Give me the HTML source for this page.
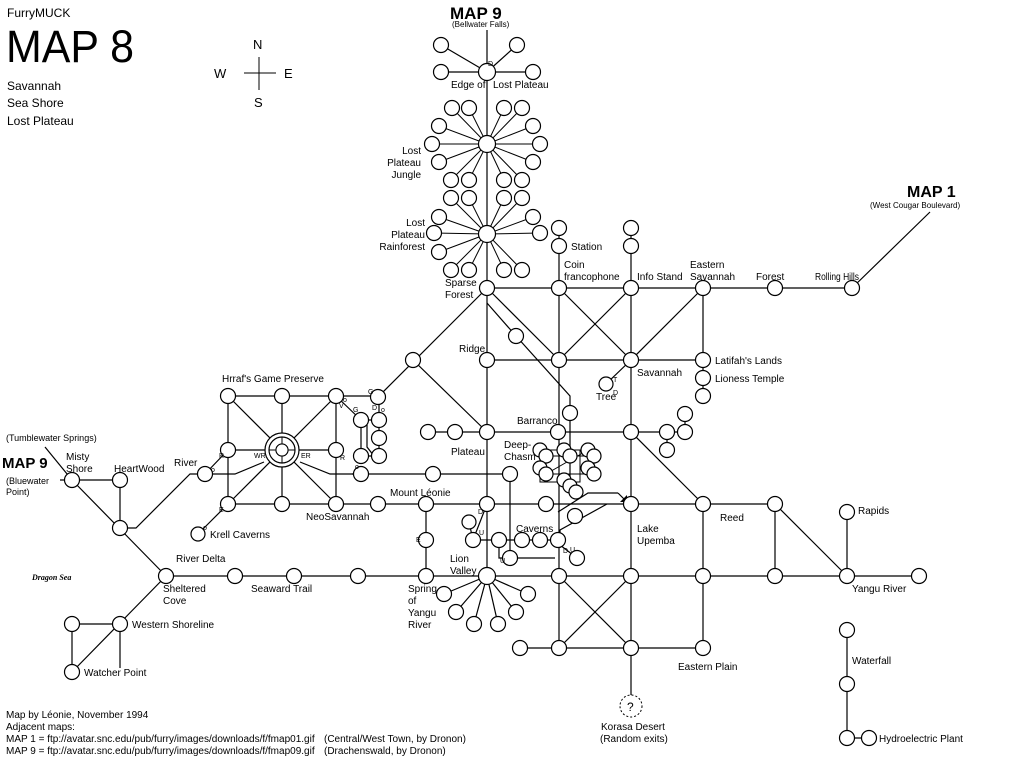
<!DOCTYPE html>
<html><head><meta charset="utf-8"><style>
html,body{margin:0;padding:0;background:#fff}
svg{display:block}
text{font-family:"Liberation Sans",sans-serif;font-size:10px;fill:#000}
.l{stroke:#000;stroke-width:1.2;fill:none}
.t{stroke:#000;stroke-width:1;fill:none}
.c{fill:#fff;stroke:#000;stroke-width:1.2}
.s{font-size:7px}
</style></head><body>
<svg width="1024" height="768" viewBox="0 0 1024 768" xmlns="http://www.w3.org/2000/svg">
<text x="7" y="17" style="font-size:12px">FurryMUCK</text>
<text x="6" y="62" style="font-size:45px" textLength="128" lengthAdjust="spacingAndGlyphs">MAP 8</text>
<text x="7" y="90" style="font-size:12px">Savannah</text>
<text x="7" y="107" style="font-size:12px">Sea Shore</text>
<text x="7" y="125" style="font-size:12px">Lost Plateau</text>
<g class="t"><line x1="244" y1="73" x2="276" y2="73"/><line x1="259" y1="57" x2="259" y2="90"/></g>
<text x="253" y="49" style="font-size:13px">N</text>
<text x="214" y="78" style="font-size:13px">W</text>
<text x="284" y="78" style="font-size:13px">E</text>
<text x="254" y="107" style="font-size:13px">S</text>

<g class="l">
<line x1="487" y1="30" x2="487" y2="576"/>
<line x1="441" y1="72" x2="533" y2="72"/>
<line x1="487" y1="72" x2="441" y2="45"/><line x1="487" y1="72" x2="517" y2="45"/>
<line x1="487" y1="288" x2="852" y2="288"/>
<line x1="852" y1="288" x2="930" y2="212"/>
<line x1="559" y1="228" x2="559" y2="648"/>
<line x1="631" y1="228" x2="631" y2="706"/>
<line x1="703" y1="288" x2="703" y2="396"/>
<line x1="559" y1="288" x2="631" y2="360"/>
<line x1="631" y1="288" x2="559" y2="360"/>
<line x1="703" y1="288" x2="631" y2="360"/>
<line x1="487" y1="288" x2="559" y2="360"/>
<polyline points="487,303 516,336 570,396 570,476"/>
<line x1="487" y1="288" x2="378" y2="397"/>
<line x1="413" y1="360" x2="487" y2="432"/>
<line x1="487" y1="360" x2="703" y2="360"/>
<line x1="631" y1="360" x2="606" y2="384"/>
<line x1="428" y1="432" x2="685" y2="432"/>
<line x1="685" y1="414" x2="685" y2="432"/>
<line x1="667" y1="432" x2="667" y2="450"/>
<line x1="631" y1="432" x2="703" y2="504"/>
<line x1="352" y1="474" x2="510" y2="474"/>
<line x1="510" y1="474" x2="510" y2="558"/>
<line x1="336" y1="504" x2="426" y2="504"/>
<line x1="426" y1="504" x2="775" y2="504"/>
<line x1="426" y1="504" x2="426" y2="576"/>
<line x1="775" y1="504" x2="847" y2="576"/>
<line x1="703" y1="504" x2="703" y2="648"/>
<line x1="775" y1="504" x2="775" y2="576"/>
<polyline points="558,512 588,493 618,493"/>
<polyline points="560,548 560,530 607,504"/>
<line x1="473" y1="540" x2="558" y2="540"/>
<line x1="487" y1="504" x2="473" y2="540"/>
<polyline points="469,522 473,540"/>
<polyline points="499,540 499,558 555,558"/>
<line x1="577" y1="558" x2="560" y2="545"/>
<line x1="166" y1="576" x2="919" y2="576"/>
<line x1="520" y1="648" x2="703" y2="648"/>
<line x1="559" y1="576" x2="631" y2="648"/>
<line x1="631" y1="576" x2="559" y2="648"/>
<line x1="487" y1="576" x2="444" y2="594"/><line x1="487" y1="576" x2="456" y2="612"/>
<line x1="487" y1="576" x2="474" y2="624"/><line x1="487" y1="576" x2="498" y2="624"/>
<line x1="487" y1="576" x2="516" y2="612"/><line x1="487" y1="576" x2="528" y2="594"/>
<line x1="847" y1="512" x2="847" y2="576"/>
<line x1="847" y1="630" x2="847" y2="738"/>
<line x1="847" y1="738" x2="869" y2="738"/>
<line x1="228" y1="396" x2="378" y2="396"/>
<line x1="228" y1="450" x2="336" y2="450"/>
<line x1="228" y1="504" x2="336" y2="504"/>
<line x1="228" y1="396" x2="228" y2="504"/>
<line x1="282" y1="396" x2="282" y2="504"/>
<line x1="336" y1="396" x2="336" y2="504"/>
<line x1="228" y1="396" x2="336" y2="504"/>
<line x1="336" y1="396" x2="228" y2="504"/>
<line x1="336" y1="396" x2="361" y2="420"/>
<line x1="361" y1="420" x2="379" y2="420"/>
<line x1="379" y1="397" x2="379" y2="456"/>
<line x1="361" y1="456" x2="379" y2="456"/>
<line x1="361" y1="420" x2="361" y2="456"/>
<polyline points="367,425 367,447 374,456"/>
<polyline points="205,474 235,474 264,462"/>
<polyline points="300,462 330,474 361,474"/>
<line x1="228" y1="450" x2="205" y2="474"/>
<line x1="228" y1="504" x2="198" y2="534"/>
<line x1="45" y1="447" x2="72" y2="480"/>
<line x1="60" y1="480" x2="120" y2="480"/>
<line x1="72" y1="480" x2="166" y2="576"/>
<line x1="120" y1="480" x2="120" y2="528"/>
<polyline points="120,528 136,528 190,474 205,474"/>
<line x1="166" y1="576" x2="72" y2="672"/>
<line x1="72" y1="624" x2="120" y2="624"/>
<line x1="72" y1="624" x2="72" y2="672"/>
<line x1="120" y1="624" x2="120" y2="668"/>
</g>
<g class="t">
<line x1="487" y1="144" x2="452" y2="108"/><line x1="487" y1="144" x2="469" y2="108"/><line x1="487" y1="144" x2="504" y2="108"/><line x1="487" y1="144" x2="522" y2="108"/>
<line x1="487" y1="144" x2="439" y2="126"/><line x1="487" y1="144" x2="533" y2="126"/><line x1="487" y1="144" x2="432" y2="144"/><line x1="487" y1="144" x2="540" y2="144"/>
<line x1="487" y1="144" x2="439" y2="162"/><line x1="487" y1="144" x2="533" y2="162"/>
<line x1="487" y1="144" x2="451" y2="180"/><line x1="487" y1="144" x2="469" y2="180"/><line x1="487" y1="144" x2="504" y2="180"/><line x1="487" y1="144" x2="522" y2="180"/>
<line x1="487" y1="234" x2="451" y2="198"/><line x1="487" y1="234" x2="469" y2="198"/><line x1="487" y1="234" x2="504" y2="198"/><line x1="487" y1="234" x2="522" y2="198"/>
<line x1="487" y1="234" x2="439" y2="217"/><line x1="487" y1="234" x2="533" y2="217"/><line x1="487" y1="234" x2="434" y2="233"/><line x1="487" y1="234" x2="540" y2="233"/>
<line x1="487" y1="234" x2="439" y2="252"/>
<line x1="487" y1="234" x2="451" y2="270"/><line x1="487" y1="234" x2="469" y2="270"/><line x1="487" y1="234" x2="504" y2="270"/><line x1="487" y1="234" x2="522" y2="270"/>
<rect x="546" y="456" width="48" height="18"/>
<polyline points="540,450 540,482 580,482 580,450"/>
<line x1="540" y1="450" x2="594" y2="450"/>
<line x1="546" y1="474" x2="588" y2="450"/>
<line x1="570" y1="456" x2="570" y2="486"/>
<line x1="588" y1="468" x2="594" y2="474"/>
</g>
<path d="M618,493 L625,500" class="l"/><path d="M620,502 L627,502 L627,495 Z" fill="#000"/>

<g class="c">
<circle cx="487" cy="72" r="8.5"/><circle cx="441" cy="45" r="7.5"/><circle cx="517" cy="45" r="7.5"/><circle cx="441" cy="72" r="7.5"/><circle cx="533" cy="72" r="7.5"/>
<circle cx="487" cy="144" r="8.5"/><circle cx="487" cy="234" r="8.5"/>
<circle cx="452" cy="108" r="7.5"/><circle cx="469" cy="108" r="7.5"/><circle cx="504" cy="108" r="7.5"/><circle cx="522" cy="108" r="7.5"/>
<circle cx="439" cy="126" r="7.5"/><circle cx="533" cy="126" r="7.5"/><circle cx="432" cy="144" r="7.5"/><circle cx="540" cy="144" r="7.5"/>
<circle cx="439" cy="162" r="7.5"/><circle cx="533" cy="162" r="7.5"/>
<circle cx="451" cy="180" r="7.5"/><circle cx="469" cy="180" r="7.5"/><circle cx="504" cy="180" r="7.5"/><circle cx="522" cy="180" r="7.5"/>
<circle cx="451" cy="198" r="7.5"/><circle cx="469" cy="198" r="7.5"/><circle cx="504" cy="198" r="7.5"/><circle cx="522" cy="198" r="7.5"/>
<circle cx="439" cy="217" r="7.5"/><circle cx="533" cy="217" r="7.5"/><circle cx="434" cy="233" r="7.5"/><circle cx="540" cy="233" r="7.5"/>
<circle cx="439" cy="252" r="7.5"/>
<circle cx="451" cy="270" r="7.5"/><circle cx="469" cy="270" r="7.5"/><circle cx="504" cy="270" r="7.5"/><circle cx="522" cy="270" r="7.5"/>
<circle cx="487" cy="288" r="7.5"/><circle cx="559" cy="288" r="7.5"/><circle cx="631" cy="288" r="7.5"/><circle cx="703" cy="288" r="7.5"/><circle cx="775" cy="288" r="7.5"/><circle cx="852" cy="288" r="7.5"/>
<circle cx="559" cy="246" r="7.5"/><circle cx="559" cy="228" r="7.5"/><circle cx="631" cy="246" r="7.5"/><circle cx="631" cy="228" r="7.5"/>
<circle cx="516" cy="336" r="7.5"/><circle cx="413" cy="360" r="7.5"/><circle cx="487" cy="360" r="7.5"/><circle cx="559" cy="360" r="7.5"/><circle cx="631" cy="360" r="7.5"/><circle cx="703" cy="360" r="7.5"/><circle cx="703" cy="378" r="7.5"/><circle cx="703" cy="396" r="7.5"/>
<circle cx="606" cy="384" r="7"/><circle cx="570" cy="413" r="7.5"/>
<circle cx="428" cy="432" r="7.5"/><circle cx="455" cy="432" r="7.5"/><circle cx="487" cy="432" r="7.5"/><circle cx="558" cy="432" r="7.5"/><circle cx="631" cy="432" r="7.5"/><circle cx="667" cy="432" r="7.5"/><circle cx="685" cy="432" r="7.5"/><circle cx="685" cy="414" r="7.5"/><circle cx="667" cy="450" r="7.5"/>
<circle cx="540" cy="450" r="7"/><circle cx="564" cy="450" r="7"/><circle cx="588" cy="450" r="7"/><circle cx="546" cy="456" r="7"/><circle cx="570" cy="456" r="7"/><circle cx="594" cy="456" r="7"/><circle cx="540" cy="468" r="7"/><circle cx="588" cy="468" r="7"/><circle cx="546" cy="474" r="7"/><circle cx="594" cy="474" r="7"/><circle cx="564" cy="480" r="7"/><circle cx="570" cy="486" r="7"/><circle cx="576" cy="492" r="7"/><circle cx="575" cy="516" r="7.5"/>
<circle cx="433" cy="474" r="7.5"/><circle cx="510" cy="474" r="7.5"/>
<circle cx="378" cy="504" r="7.5"/><circle cx="426" cy="504" r="7.5"/><circle cx="487" cy="504" r="7.5"/><circle cx="546" cy="504" r="7.5"/><circle cx="631" cy="504" r="7.5"/><circle cx="703" cy="504" r="7.5"/><circle cx="775" cy="504" r="7.5"/><circle cx="847" cy="512" r="7.5"/>
<circle cx="426" cy="540" r="7.5"/><circle cx="469" cy="522" r="7"/><circle cx="473" cy="540" r="7.5"/><circle cx="499" cy="540" r="7.5"/><circle cx="522" cy="540" r="7.5"/><circle cx="540" cy="540" r="7.5"/><circle cx="558" cy="540" r="7.5"/><circle cx="510" cy="558" r="7.5"/><circle cx="577" cy="558" r="7.5"/>
<circle cx="166" cy="576" r="7.5"/><circle cx="235" cy="576" r="7.5"/><circle cx="294" cy="576" r="7.5"/><circle cx="358" cy="576" r="7.5"/><circle cx="426" cy="576" r="7.5"/><circle cx="487" cy="576" r="8.5"/><circle cx="559" cy="576" r="7.5"/><circle cx="631" cy="576" r="7.5"/><circle cx="703" cy="576" r="7.5"/><circle cx="775" cy="576" r="7.5"/><circle cx="847" cy="576" r="7.5"/><circle cx="919" cy="576" r="7.5"/>
<circle cx="444" cy="594" r="7.5"/><circle cx="456" cy="612" r="7.5"/><circle cx="474" cy="624" r="7.5"/><circle cx="498" cy="624" r="7.5"/><circle cx="516" cy="612" r="7.5"/><circle cx="528" cy="594" r="7.5"/>
<circle cx="520" cy="648" r="7.5"/><circle cx="559" cy="648" r="7.5"/><circle cx="631" cy="648" r="7.5"/><circle cx="703" cy="648" r="7.5"/>
<circle cx="847" cy="630" r="7.5"/><circle cx="847" cy="684" r="7.5"/><circle cx="847" cy="738" r="7.5"/><circle cx="869" cy="738" r="7.5"/>
<circle cx="228" cy="396" r="7.5"/><circle cx="282" cy="396" r="7.5"/><circle cx="336" cy="396" r="7.5"/><circle cx="378" cy="397" r="7.5"/>
<circle cx="228" cy="450" r="7.5"/><circle cx="336" cy="450" r="7.5"/>
<circle cx="228" cy="504" r="7.5"/><circle cx="282" cy="504" r="7.5"/><circle cx="336" cy="504" r="7.5"/>
<circle cx="282" cy="450" r="17"/><circle cx="282" cy="450" r="13"/><circle cx="282" cy="450" r="6"/>
<circle cx="361" cy="420" r="7.5"/><circle cx="379" cy="420" r="7.5"/><circle cx="379" cy="438" r="7.5"/><circle cx="379" cy="456" r="7.5"/><circle cx="361" cy="456" r="7.5"/><circle cx="361" cy="474" r="7.5"/>
<circle cx="205" cy="474" r="7.5"/><circle cx="198" cy="534" r="7"/>
<circle cx="72" cy="480" r="7.5"/><circle cx="120" cy="480" r="7.5"/><circle cx="120" cy="528" r="7.5"/><circle cx="120" cy="624" r="7.5"/><circle cx="72" cy="624" r="7.5"/><circle cx="72" cy="672" r="7.5"/>
</g>
<g class="t"><line x1="282" y1="437" x2="282" y2="463"/><line x1="269" y1="450" x2="295" y2="450"/></g>
<circle cx="282" cy="450" r="6" fill="#fff" stroke="#000"/>
<circle cx="631" cy="706" r="11" fill="#fff" stroke="#000" stroke-dasharray="2,2"/>
<text x="627" y="711" style="font-size:12px">?</text>

<text x="450" y="19" style="font-size:17px;font-weight:bold">MAP 9</text>
<text x="452" y="27" style="font-size:8px">(Bellwater Falls)</text>
<text x="451" y="88">Edge of</text><text x="493" y="88">Lost Plateau</text>
<text x="421" y="154" text-anchor="end">Lost</text><text x="421" y="166" text-anchor="end">Plateau</text><text x="421" y="178" text-anchor="end">Jungle</text>
<text x="425" y="226" text-anchor="end">Lost</text><text x="425" y="238" text-anchor="end">Plateau</text><text x="425" y="250" text-anchor="end">Rainforest</text>
<text x="445" y="286">Sparse</text><text x="445" y="298">Forest</text>
<text x="571" y="250">Station</text>
<text x="564" y="268">Coin</text><text x="564" y="280">francophone</text>
<text x="637" y="280">Info Stand</text>
<text x="690" y="268">Eastern</text><text x="690" y="280">Savannah</text>
<text x="756" y="280">Forest</text><text x="815" y="280" textLength="44" lengthAdjust="spacingAndGlyphs">Rolling Hills</text>
<text x="907" y="197" style="font-size:16px;font-weight:bold">MAP 1</text>
<text x="870" y="208" style="font-size:8px">(West Cougar Boulevard)</text>
<text x="459" y="352">Ridge</text>
<text x="637" y="376">Savannah</text>
<text x="596" y="400">Tree</text>
<text x="715" y="364">Latifah's Lands</text>
<text x="715" y="382">Lioness Temple</text>
<text x="222" y="382">Hrraf's Game Preserve</text>
<text x="517" y="424">Barranco</text>
<text x="451" y="455">Plateau</text>
<text x="504" y="448">Deep-</text><text x="504" y="460">Chasm</text>
<text x="6" y="441" style="font-size:9px">(Tumblewater Springs)</text>
<text x="2" y="468" style="font-size:15px;font-weight:bold">MAP 9</text>
<text x="6" y="484" style="font-size:9px">(Bluewater</text><text x="6" y="495" style="font-size:9px">Point)</text>
<text x="66" y="460">Misty</text><text x="66" y="472">Shore</text>
<text x="114" y="472">HeartWood</text>
<text x="174" y="466">River</text>
<text x="390" y="496">Mount Léonie</text>
<text x="306" y="520">NeoSavannah</text>
<text x="210" y="538">Krell Caverns</text>
<text x="720" y="521">Reed</text>
<text x="858" y="514">Rapids</text>
<text x="637" y="532">Lake</text><text x="637" y="544">Upemba</text>
<text x="516" y="532">Caverns</text>
<text x="450" y="562">Lion</text><text x="450" y="574">Valley</text>
<text x="176" y="562">River Delta</text>
<text x="32" y="580" style="font-size:8px;font-style:italic;font-weight:bold;font-family:'Liberation Serif',serif">Dragon Sea</text>
<text x="163" y="592">Sheltered</text><text x="163" y="604">Cove</text>
<text x="251" y="592">Seaward Trail</text>
<text x="408" y="592">Spring</text><text x="408" y="604">of</text><text x="408" y="616">Yangu</text><text x="408" y="628">River</text>
<text x="852" y="592">Yangu River</text>
<text x="132" y="628">Western Shoreline</text>
<text x="852" y="664">Waterfall</text>
<text x="84" y="676">Watcher Point</text>
<text x="678" y="670">Eastern Plain</text>
<text x="601" y="730">Korasa Desert</text><text x="600" y="742">(Random exits)</text>
<text x="879" y="742">Hydroelectric Plant</text>
<g style="font-size:6px">
<text x="488" y="66" class="s">D</text>
<text x="613" y="382" class="s">T</text><text x="613" y="395" class="s">D</text>
<text x="219" y="458" class="s">R</text><text x="211" y="472" class="s">o</text>
<text x="254" y="458" class="s">WR</text><text x="301" y="458" class="s">ER</text>
<text x="340" y="460" class="s">R</text><text x="355" y="469" class="s">o</text>
<text x="219" y="512" class="s">E</text><text x="203" y="530" class="s">o</text>
<text x="339" y="408" class="s">V</text><text x="343" y="402" class="s">o</text>
<text x="353" y="412" class="s">G</text><text x="368" y="394" class="s">G</text><text x="372" y="410" class="s">D</text><text x="381" y="412" class="s">o</text>
<text x="478" y="514" class="s">D</text><text x="479" y="535" class="s">U</text>
<text x="416" y="542" class="s">E</text>
<text x="500" y="563" class="s">U</text><text x="563" y="553" class="s">D</text><text x="570" y="552" class="s">U</text>
</g>
<g style="font-size:9px">
<text x="6" y="718">Map by Léonie, November 1994</text>
<text x="6" y="730">Adjacent maps:</text>
<text x="6" y="742">MAP 1 =  ftp://avatar.snc.edu/pub/furry/images/downloads/f/fmap01.gif</text>
<text x="324" y="742">(Central/West Town, by Dronon)</text>
<text x="6" y="754">MAP 9 =  ftp://avatar.snc.edu/pub/furry/images/downloads/f/fmap09.gif</text>
<text x="324" y="754">(Drachenswald, by Dronon)</text>
</g>
</svg>
</body></html>
